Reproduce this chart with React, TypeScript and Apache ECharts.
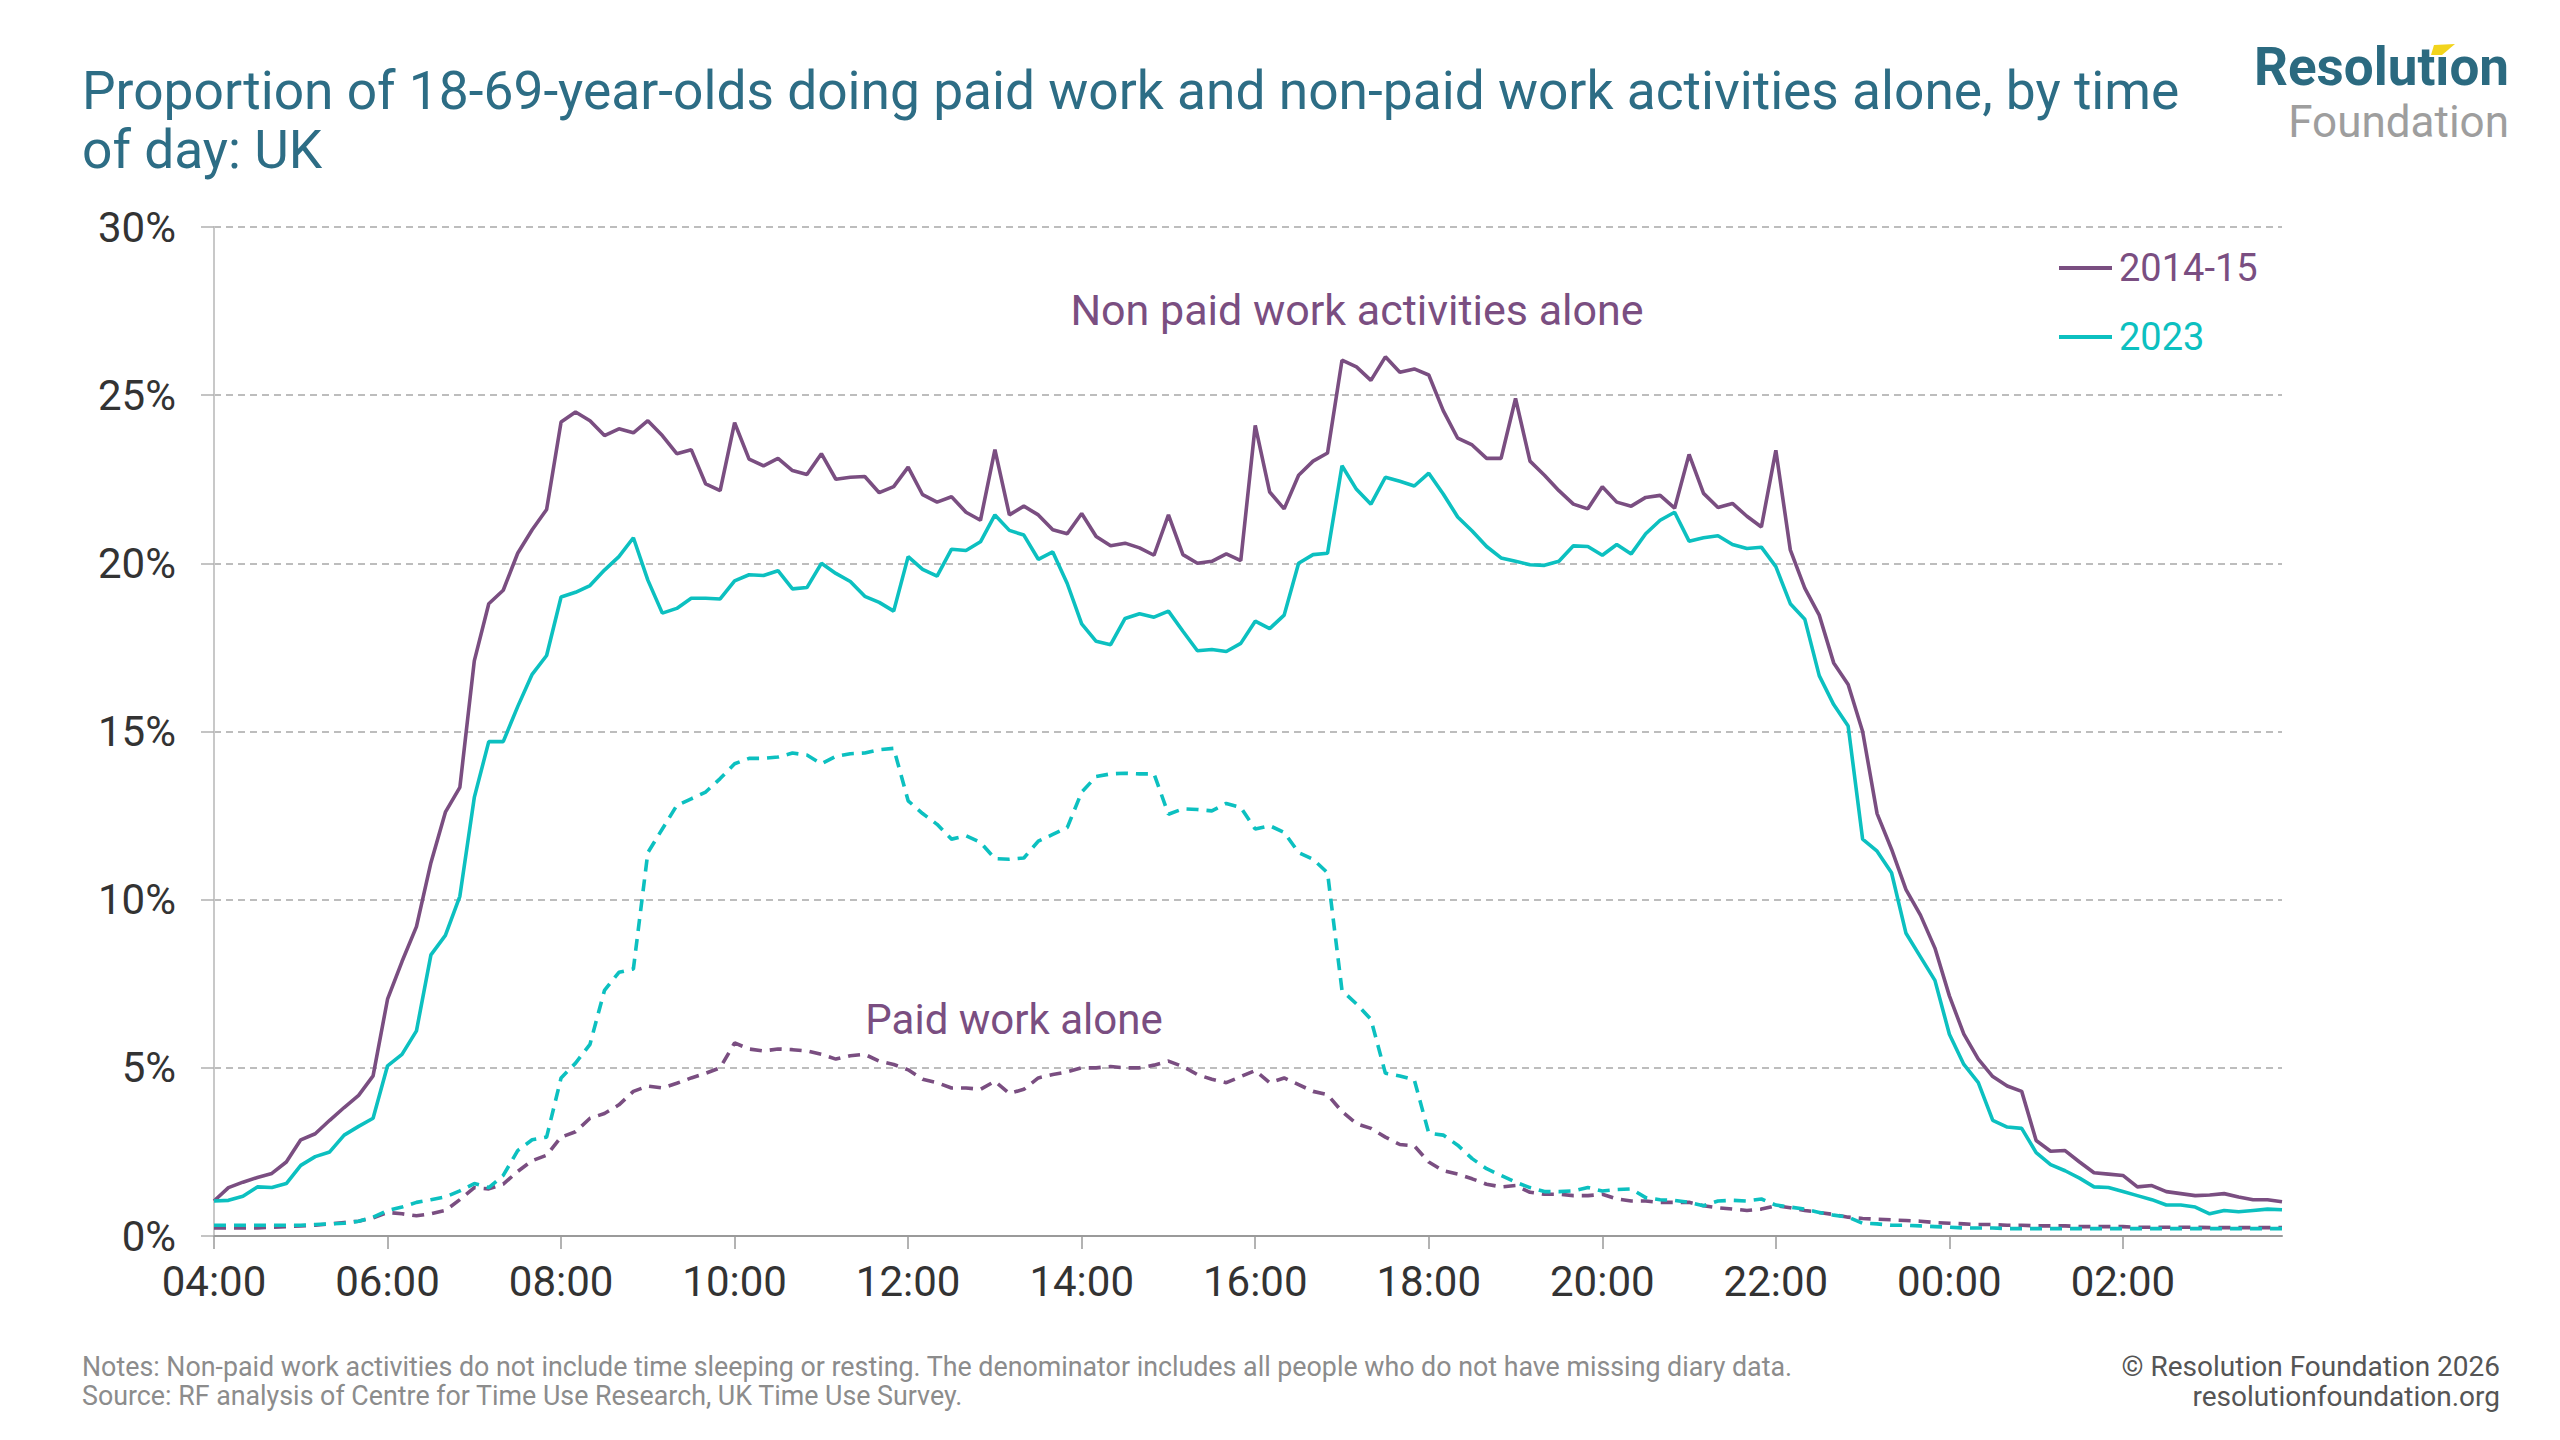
import React, { useEffect, useRef } from "react";
import * as echarts from "echarts";

const PURPLE = "#7A4E81";
const TEAL = "#0CC0C0";

// 10-minute slots from 04:00 to 03:50
const START_HOUR = 4;
const SLOTS = 144;
const timeLabels: string[] = [];
for (let k = 0; k < SLOTS; k++) {
  const m = (START_HOUR * 60 + k * 10) % (24 * 60);
  const h = Math.floor(m / 60);
  const mm = m % 60;
  timeLabels.push(`${String(h).padStart(2, "0")}:${String(mm).padStart(2, "0")}`);
}

const yTicks = [0, 5, 10, 15, 20, 25, 30];

// Non-paid work activities alone, 2014-15 (%)
const nonPaid2014 = [
  1.04, 1.44, 1.6, 1.74, 1.86, 2.2, 2.86, 3.04, 3.44, 3.82, 4.18, 4.76,
  7.04, 8.16, 9.2, 11.1, 12.6, 13.34, 17.1, 18.8, 19.2, 20.3, 21.0, 21.6,
  24.2, 24.5, 24.24, 23.8, 24.0, 23.88, 24.24, 23.8, 23.26, 23.38, 22.36, 22.16,
  24.18, 23.1, 22.9, 23.12, 22.76, 22.64, 23.26, 22.5, 22.56, 22.58, 22.1, 22.28,
  22.86, 22.04, 21.82, 21.98, 21.52, 21.28, 23.38, 21.44, 21.7, 21.44, 21.0, 20.88,
  21.48, 20.8, 20.52, 20.6, 20.46, 20.24, 21.44, 20.26, 20.0, 20.06, 20.28, 20.08,
  24.1, 22.12, 21.62, 22.62, 23.04, 23.28, 26.04, 25.84, 25.44, 26.14, 25.68, 25.78,
  25.6, 24.54, 23.72, 23.52, 23.12, 23.12, 24.9, 23.04, 22.62, 22.16, 21.76, 21.62,
  22.28, 21.82, 21.7, 21.96, 22.02, 21.64, 23.24, 22.08, 21.66, 21.78, 21.4, 21.08,
  23.36, 20.4, 19.26, 18.46, 17.04, 16.4, 15.0, 12.56, 11.5, 10.3, 9.54, 8.56,
  7.14, 6.0, 5.26, 4.74, 4.46, 4.3, 2.84, 2.52, 2.54, 2.2, 1.88, 1.84,
  1.8, 1.46, 1.5, 1.32, 1.26, 1.2, 1.22, 1.26, 1.16, 1.08, 1.08, 1.02,
];

// Non-paid work activities alone, 2023 (%)
const nonPaid2023 = [
  1.04, 1.06, 1.18, 1.46, 1.44, 1.56, 2.1, 2.36, 2.5, 3.0, 3.26, 3.5,
  5.06, 5.4, 6.1, 8.36, 8.94, 10.1, 13.04, 14.7, 14.7, 15.74, 16.7, 17.26,
  19.0, 19.14, 19.34, 19.8, 20.2, 20.76, 19.5, 18.52, 18.66, 18.96, 18.96, 18.94,
  19.48, 19.66, 19.64, 19.78, 19.24, 19.28, 20.0, 19.7, 19.46, 19.02, 18.84, 18.58,
  20.2, 19.82, 19.62, 20.42, 20.38, 20.64, 21.44, 20.98, 20.84, 20.12, 20.34, 19.4,
  18.2, 17.68, 17.58, 18.36, 18.5, 18.4, 18.58, 17.98, 17.4, 17.44, 17.38, 17.62,
  18.28, 18.06, 18.46, 20.0, 20.26, 20.3, 22.9, 22.2, 21.76, 22.56, 22.44, 22.3,
  22.68, 22.06, 21.38, 20.96, 20.5, 20.16, 20.06, 19.96, 19.94, 20.06, 20.52, 20.5,
  20.24, 20.56, 20.28, 20.88, 21.28, 21.52, 20.66, 20.76, 20.82, 20.56, 20.44, 20.48,
  19.9, 18.8, 18.34, 16.66, 15.8, 15.16, 11.8, 11.44, 10.8, 9.0, 8.3, 7.6,
  6.0, 5.1, 4.56, 3.44, 3.24, 3.2, 2.48, 2.12, 1.94, 1.72, 1.46, 1.44,
  1.32, 1.2, 1.08, 0.92, 0.92, 0.86, 0.66, 0.76, 0.72, 0.76, 0.8, 0.78,
];

// Paid work alone, 2014-15 (%)
const paid2014 = [
  0.24, 0.24, 0.24, 0.24, 0.26, 0.28, 0.3, 0.32, 0.36, 0.4, 0.44, 0.54,
  0.7, 0.66, 0.6, 0.66, 0.76, 1.08, 1.44, 1.4, 1.54, 1.92, 2.24, 2.4,
  2.94, 3.1, 3.5, 3.64, 3.9, 4.3, 4.46, 4.4, 4.54, 4.7, 4.84, 5.0,
  5.74, 5.56, 5.5, 5.56, 5.54, 5.5, 5.4, 5.26, 5.36, 5.4, 5.2, 5.1,
  4.94, 4.66, 4.56, 4.4, 4.4, 4.36, 4.6, 4.24, 4.36, 4.7, 4.8, 4.88,
  5.0, 5.0, 5.04, 5.0, 5.0, 5.08, 5.2, 5.04, 4.8, 4.66, 4.56, 4.74,
  4.92, 4.56, 4.7, 4.5, 4.3, 4.2, 3.7, 3.34, 3.2, 2.94, 2.72, 2.68,
  2.2, 1.94, 1.84, 1.7, 1.54, 1.46, 1.5, 1.3, 1.24, 1.24, 1.2, 1.2,
  1.24, 1.1, 1.04, 1.04, 1.0, 1.0, 1.0, 0.9, 0.84, 0.8, 0.76, 0.8,
  0.9, 0.84, 0.76, 0.7, 0.64, 0.56, 0.52, 0.5, 0.48, 0.46, 0.44, 0.4,
  0.38, 0.36, 0.34, 0.34, 0.32, 0.32, 0.3, 0.3, 0.3, 0.28, 0.28, 0.28,
  0.28, 0.26, 0.26, 0.26, 0.26, 0.26, 0.25, 0.25, 0.25, 0.25, 0.25, 0.25,
];

// Paid work alone, 2023 (%)
const paid2023 = [
  0.32, 0.32, 0.32, 0.32, 0.32, 0.32, 0.32, 0.34, 0.36, 0.38, 0.44, 0.56,
  0.76, 0.86, 1.0, 1.08, 1.16, 1.34, 1.56, 1.44, 1.8, 2.54, 2.86, 2.94,
  4.7, 5.14, 5.7, 7.3, 7.84, 7.94, 11.4, 12.1, 12.8, 13.0, 13.2, 13.6,
  14.04, 14.2, 14.2, 14.24, 14.36, 14.3, 14.04, 14.26, 14.34, 14.36, 14.46, 14.5,
  12.94, 12.56, 12.24, 11.8, 11.9, 11.7, 11.22, 11.2, 11.24, 11.74, 11.94, 12.14,
  13.2, 13.66, 13.74, 13.76, 13.74, 13.74, 12.54, 12.7, 12.68, 12.64, 12.86, 12.74,
  12.1, 12.2, 12.0, 11.4, 11.2, 10.8, 7.3, 6.9, 6.44, 4.84, 4.76, 4.64,
  3.06, 3.0, 2.7, 2.3, 2.0, 1.8, 1.6, 1.44, 1.32, 1.32, 1.34, 1.44,
  1.34, 1.38, 1.4, 1.14, 1.08, 1.06, 1.0, 0.9, 1.04, 1.06, 1.04, 1.1,
  0.92, 0.86, 0.8, 0.7, 0.62, 0.56, 0.38, 0.36, 0.32, 0.32, 0.3, 0.28,
  0.26, 0.24, 0.24, 0.24, 0.22, 0.22, 0.22, 0.22, 0.22, 0.22, 0.22, 0.22,
  0.22, 0.22, 0.22, 0.22, 0.22, 0.22, 0.22, 0.22, 0.22, 0.22, 0.22, 0.22,
];

const legendNames = ["2014-15", "2023"];

const TITLE_1 =
  "Proportion of 18-69-year-olds doing paid work and non-paid work activities alone, by time";
const TITLE_2 = "of day: UK";
const NOTE_1 =
  "Notes: Non-paid work activities do not include time sleeping or resting. The denominator includes all people who do not have missing diary data.";
const NOTE_2 = "Source: RF analysis of Centre for Time Use Research, UK Time Use Survey.";
const COPY_1 = "\u00A9 Resolution Foundation 2026";
const COPY_2 = "resolutionfoundation.org";
const LABEL_NONPAID = "Non paid work activities alone";
const LABEL_PAID = "Paid work alone";

const FONT = "Roboto, 'Open Sans', sans-serif";

export default function App() {
  const ref = useRef<HTMLDivElement>(null);

  useEffect(() => {
    if (!ref.current) return;
    const chart = echarts.init(ref.current, undefined, { renderer: "svg" });

    const lineSeries = (
      name: string,
      data: number[],
      color: string,
      dashed: boolean
    ) => ({
      name,
      type: "line",
      data,
      showSymbol: false,
      symbol: "none",
      smooth: false,
      color,
      lineStyle: {
        color,
        width: 3.6,
        type: dashed ? [12, 8] : "solid",
      },
      emphasis: { disabled: true },
      z: dashed ? 2 : 3,
    });

    chart.setOption({
      animation: false,
      backgroundColor: "#ffffff",
      textStyle: { fontFamily: FONT },
      grid: { left: 214, right: 278, top: 227, bottom: 204, containLabel: false },
      legend: {
        data: legendNames.map((n, i) => ({
          name: n,
          textStyle: { color: i === 0 ? PURPLE : TEAL },
        })),
        orient: "vertical",
        left: 2054,
        top: 244,
        icon: "rect",
        itemWidth: 53,
        itemHeight: 4,
        itemGap: 31,
        selectedMode: false,
        textStyle: { fontSize: 38, fontFamily: FONT, padding: [0, 0, 0, 2] },
      },
      xAxis: {
        type: "category",
        data: timeLabels,
        boundaryGap: false,
        axisLine: { show: true, lineStyle: { color: "#9a9a9a", width: 2 } },
        axisTick: {
          show: true,
          interval: 11,
          length: 13,
          lineStyle: { color: "#9a9a9a", width: 1.5 },
        },
        axisLabel: {
          interval: 11,
          fontSize: 42,
          color: "#333333",
          margin: 24,
          fontFamily: FONT,
        },
        splitLine: { show: false },
      },
      yAxis: {
        type: "value",
        min: yTicks[0],
        max: yTicks[yTicks.length - 1],
        interval: 5,
        axisLine: { show: true, lineStyle: { color: "#c8c8c8", width: 2 } },
        axisTick: { show: true, length: 13, lineStyle: { color: "#b0b0b0", width: 1.5 } },
        axisLabel: {
          formatter: "{value}%",
          fontSize: 42,
          color: "#333333",
          margin: 38,
          fontFamily: FONT,
        },
        splitLine: {
          show: true,
          lineStyle: { color: "#a8a8a8", width: 1.6, type: [7, 5] },
        },
      },
      series: [
        lineSeries("2014-15 paid", paid2014, PURPLE, true),
        lineSeries("2023 paid", paid2023, TEAL, true),
        lineSeries("2014-15", nonPaid2014, PURPLE, false),
        lineSeries("2023", nonPaid2023, TEAL, false),
      ],
      graphic: [
        {
          type: "text",
          left: 82,
          top: 64,
          style: { text: TITLE_1, fontSize: 53.3, fill: "#2D6D85", fontFamily: FONT },
        },
        {
          type: "text",
          left: 82,
          top: 123,
          style: { text: TITLE_2, fontSize: 53.3, fill: "#2D6D85", fontFamily: FONT },
        },
        {
          type: "text",
          right: 51,
          top: 40,
          style: {
            text: "Resolution",
            fontSize: 53,
            fontWeight: "bold",
            fill: "#2B6A80",
            fontFamily: FONT,
          },
        },
        {
          type: "polygon",
          shape: {
            points: [
              [2431, 55],
              [2442, 55],
              [2455, 44],
              [2434, 45],
            ],
          },
          style: { fill: "#F2D41C" },
          z: 10,
        },
        {
          type: "text",
          right: 51,
          top: 100,
          style: { text: "Foundation", fontSize: 44, fill: "#9E9E9E", fontFamily: FONT },
        },
        {
          type: "text",
          x: 1357,
          y: 310,
          style: {
            text: LABEL_NONPAID,
            fontSize: 43,
            fill: PURPLE,
            fontFamily: FONT,
            align: "center",
            verticalAlign: "middle",
          },
        },
        {
          type: "text",
          x: 1014,
          y: 1019,
          style: {
            text: LABEL_PAID,
            fontSize: 42,
            fill: PURPLE,
            fontFamily: FONT,
            align: "center",
            verticalAlign: "middle",
          },
        },
        {
          type: "text",
          left: 82,
          top: 1353,
          style: { text: NOTE_1, fontSize: 26.8, fill: "#8c8c8c", fontFamily: FONT },
        },
        {
          type: "text",
          left: 82,
          top: 1382,
          style: { text: NOTE_2, fontSize: 26.8, fill: "#8c8c8c", fontFamily: FONT },
        },
        {
          type: "text",
          right: 60,
          top: 1352,
          style: { text: COPY_1, fontSize: 28, fill: "#555555", fontFamily: FONT },
        },
        {
          type: "text",
          right: 60,
          top: 1382,
          style: { text: COPY_2, fontSize: 28, fill: "#555555", fontFamily: FONT },
        },
      ],
    });

    return () => {
      chart.dispose();
    };
  }, []);

  return (
    <div
      ref={ref}
      style={{
        position: "absolute",
        left: 0,
        top: 0,
        width: 2560,
        height: 1440,
        background: "#ffffff",
      }}
    />
  );
}
